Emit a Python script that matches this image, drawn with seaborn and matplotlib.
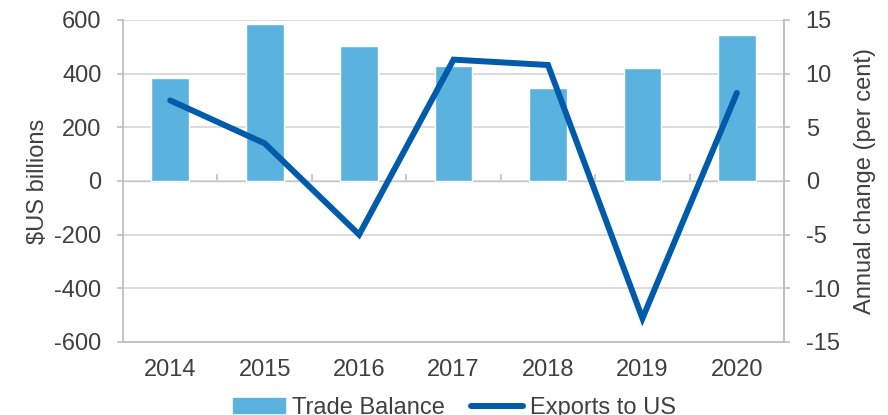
import numpy as np
import pandas as pd
import matplotlib
matplotlib.use("Agg")
import matplotlib.pyplot as plt
import seaborn as sns
from matplotlib.lines import Line2D
from matplotlib.patches import Patch

# data
years = ["2014", "2015", "2016", "2017", "2018", "2019", "2020"]
trade_balance = [383, 585, 503, 429, 348, 420, 545]      # $US billions
exports_to_us = [7.5, 3.5, -5.0, 11.3, 10.8, -12.8, 8.2]  # annual change, per cent

bar_color = "#5AB3DE"
line_color = "#005BAA"
grid_color = "#D9D9D9"
axis_color = "#BFBFBF"
text_color = "#404040"
fs = 17

df = pd.DataFrame({"year": years, "balance": trade_balance, "exports": exports_to_us})

sns.set_style("white")
plt.rcParams["font.family"] = ["Liberation Sans", "DejaVu Sans"]
plt.rcParams["axes.unicode_minus"] = False

fig = plt.figure(figsize=(8.88, 4.15), dpi=100)
ax = fig.add_axes([0.1385, 0.176, 0.7445, 0.776])

sns.barplot(data=df, x="year", y="balance", color=bar_color, width=0.4,
            saturation=1, ax=ax, zorder=2)
ax.set_xlim(-0.5, len(years) - 0.5)
ax.set_ylim(-600, 600)
ax.set_yticks(np.arange(-600, 601, 200))
ax.yaxis.grid(True, color=grid_color, lw=1.3, zorder=0)
ax.set_axisbelow(True)
ax.set_xlabel("")
ax.set_ylabel("$US billions", color=text_color, fontsize=fs, labelpad=4)
ax.tick_params(axis="x", length=0, pad=12, labelcolor=text_color, labelsize=fs)
ax.tick_params(axis="y", length=4.5, width=1.2, color=axis_color,
               labelcolor=text_color, labelsize=fs, pad=11)
ax.spines["top"].set_visible(False)
for side in ["left", "right", "bottom"]:
    ax.spines[side].set_color(axis_color)
    ax.spines[side].set_linewidth(1.3)

# zero line with category boundary ticks
zero = ax.secondary_xaxis(0.5)
zero.set_xticks([])
zero.set_xticks(np.arange(0.5, len(years) - 1, 1), minor=True)
zero.tick_params(which="minor", direction="out", length=5, width=1.2, color=axis_color)
zero.spines["bottom"].set_color(axis_color)
zero.spines["bottom"].set_linewidth(1.5)

ax2 = ax.twinx()
sns.lineplot(x=df.index, y=df["exports"], color=line_color, lw=4.3, ax=ax2,
             solid_joinstyle="miter")
ax2.set_ylim(-15, 15)
ax2.set_yticks(np.arange(-15, 16, 5))
ax2.set_ylabel("Annual change (per cent)", color=text_color, fontsize=fs, labelpad=10)
ax2.tick_params(axis="y", length=4.5, width=1.2, color=axis_color,
                labelcolor=text_color, labelsize=fs, pad=11)
for side in ["top", "bottom", "left"]:
    ax2.spines[side].set_visible(False)
ax2.spines["right"].set_color(axis_color)
ax2.spines["right"].set_linewidth(1.3)

handles = [Patch(color=bar_color, label="Trade Balance"),
           Line2D([], [], color=line_color, lw=4.3, label="Exports to US")]
leg = fig.legend(handles=handles, loc="upper center", bbox_to_anchor=(0.512, 0.072),
                 ncol=2, frameon=False, fontsize=fs, handlelength=2.2,
                 handleheight=0.55, handletextpad=0.3, columnspacing=1.1,
                 borderpad=0)
for t in leg.get_texts():
    t.set_color(text_color)

fig.savefig("out.png", dpi=100)
